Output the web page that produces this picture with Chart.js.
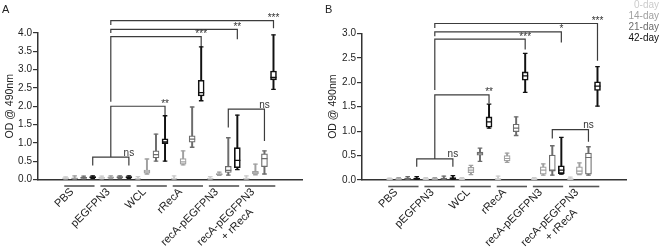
<!DOCTYPE html>
<html>
<head>
<meta charset="utf-8">
<script src="https://cdn.jsdelivr.net/npm/chart.js@4.4.1/dist/chart.umd.min.js"></script>
<style>
  html, body { margin: 0; padding: 0; background: #fff; }
  #wrap { position: relative; width: 660px; height: 247px; }
  #chartA { position: absolute; left: 0; top: 0; }
  #chartB { position: absolute; left: 324px; top: 0; }
</style>
</head>
<body>
<div id="wrap">
  <canvas id="chartA" width="324" height="247"></canvas>
  <canvas id="chartB" width="336" height="247"></canvas>
</div>
<script>
const groups = ['PBS', 'pEGFPN3', 'WCL', 'rRecA', 'recA-pEGFPN3', ['recA-pEGFPN3', '+ rRecA     ']];
const days = ['0-day', '14-day', '21-day', '42-day'];
const dayColors = ['#cccccc', '#a0a0a0', '#6c6c6c', '#111111'];

// panel A - one value per box, 6 groups x 4 days
const minA = [0.00, 0.00, 0.01, 0.03,  0.01, 0.02, 0.02, 0.03,  0.00, 0.15, 0.50, 0.50,  0.00, 0.40, 0.88, 2.15,  0.00, 0.11, 0.12, 0.27,  0.00, 0.13, 0.15, 2.46];
const q1A  = [0.02, 0.02, 0.03, 0.04,  0.03, 0.04, 0.04, 0.05,  0.01, 0.17, 0.59, 0.98,  0.01, 0.42, 1.02, 2.28,  0.01, 0.13, 0.19, 0.32,  0.01, 0.15, 0.35, 2.72];
const medA = [0.03, 0.03, 0.05, 0.06,  0.05, 0.05, 0.06, 0.06,  0.02, 0.21, 0.68, 1.03,  0.02, 0.48, 1.10, 2.37,  0.02, 0.14, 0.25, 0.52,  0.02, 0.18, 0.57, 2.79];
const q3A  = [0.05, 0.04, 0.06, 0.08,  0.06, 0.07, 0.08, 0.08,  0.03, 0.26, 0.78, 1.11,  0.04, 0.57, 1.19, 2.71,  0.04, 0.16, 0.36, 0.87,  0.04, 0.22, 0.70, 2.96];
const maxA = [0.07, 0.10, 0.09, 0.10,  0.09, 0.10, 0.10, 0.10,  0.08, 0.56, 1.24, 1.74,  0.10, 0.78, 1.98, 3.62,  0.08, 0.20, 1.14, 1.76,  0.10, 0.42, 0.78, 3.95];

// panel B
const minB = [0.00, 0.00, 0.00, 0.00,  0.00, 0.00, 0.00, 0.00,  0.00, 0.11, 0.38, 1.06,  0.00, 0.36, 0.91, 1.79,  0.00, 0.10, 0.10, 0.12,  0.00, 0.11, 0.10, 1.51];
const q1B  = [0.01, 0.01, 0.02, 0.02,  0.01, 0.01, 0.02, 0.02,  0.01, 0.15, 0.51, 1.08,  0.01, 0.39, 0.99, 2.04,  0.01, 0.12, 0.18, 0.13,  0.01, 0.12, 0.12, 1.83];
const medB = [0.02, 0.02, 0.03, 0.03,  0.02, 0.02, 0.03, 0.03,  0.02, 0.20, 0.55, 1.19,  0.02, 0.44, 1.06, 2.13,  0.02, 0.20, 0.20, 0.20,  0.02, 0.18, 0.46, 1.92];
const q3B  = [0.03, 0.03, 0.04, 0.04,  0.03, 0.03, 0.04, 0.05,  0.03, 0.26, 0.57, 1.29,  0.03, 0.50, 1.14, 2.21,  0.03, 0.27, 0.51, 0.29,  0.03, 0.27, 0.55, 2.01];
const maxB = [0.04, 0.05, 0.07, 0.07,  0.05, 0.05, 0.08, 0.09,  0.05, 0.30, 0.65, 1.55,  0.08, 0.55, 1.29, 2.59,  0.05, 0.33, 0.70, 0.87,  0.06, 0.35, 0.68, 2.32];

// significance brackets: box index of each leg, bar height, leg ends
const bracketsA = [
  { from: 3, to: 7, y: 0.61, left: 0.38, right: 0.38, label: 'ns' },
  { from: 5, to: 11, y: 2.00, left: 0.61, right: 1.75, label: '**' },
  { from: 5, to: 15, y: 3.90, left: 2.12, right: 3.62, label: '***' },
  { from: 5, to: 19, y: 4.10, left: 4.00, right: 3.83, label: '**' },
  { from: 5, to: 23, y: 4.34, left: 4.22, right: 4.13, label: '***' },
  { from: 18, to: 22, y: 1.92, left: 1.42, right: 1.05, label: 'ns' }
];
const bracketsB = [
  { from: 3, to: 7, y: 0.43, left: 0.27, right: 0.27, label: 'ns' },
  { from: 5, to: 11, y: 1.74, left: 0.43, right: 1.57, label: '**' },
  { from: 5, to: 15, y: 2.88, left: 1.84, right: 2.67, label: '***' },
  { from: 5, to: 19, y: 3.03, left: 2.94, right: 2.81, label: '*' },
  { from: 5, to: 23, y: 3.20, left: 3.11, right: 2.44, label: '***' },
  { from: 18, to: 22, y: 1.03, left: 0.85, right: 0.78, label: 'ns' }
];

Chart.defaults.font.family = '"Liberation Sans", Arial, sans-serif';
Chart.defaults.color = '#222';

const FONT = '"Liberation Sans", Arial, sans-serif';

const groupLines = {
  id: 'groupLines',
  afterDraw(chart) {
    const { ctx, chartArea, scales: { x } } = chart;
    const y0 = chartArea.bottom + 6.5;
    ctx.save();
    ctx.strokeStyle = '#555';
    ctx.lineWidth = 1.6;
    groups.forEach((g, j) => {
      ctx.beginPath();
      ctx.moveTo(x.getPixelForValue(4 * j - 0.15), y0);
      ctx.lineTo(x.getPixelForValue(4 * j + 3.2), y0);
      ctx.stroke();
    });
    ctx.restore();
  }
};

const bracketText = {
  id: 'bracketText',
  afterDatasetsDraw(chart, args, opts) {
    const { ctx, scales: { x, y } } = chart;
    ctx.save();
    ctx.fillStyle = '#333';
    ctx.textAlign = 'center';
    ctx.textBaseline = 'alphabetic';
    ctx.font = '10px ' + FONT;
    opts.brackets.forEach(b => {
      const py = y.getPixelForValue(b.y) + (b.label === 'ns' ? -1.5 : 0.5);
      ctx.fillText(b.label, x.getPixelForValue(b.to), py);
    });
    ctx.restore();
  }
};

const dayLegend = {
  id: 'dayLegend',
  afterDraw(chart, args, opts) {
    if (!opts.show) return;
    const { ctx } = chart;
    ctx.save();
    ctx.font = '10px ' + FONT;
    ctx.textAlign = 'right';
    ctx.textBaseline = 'middle';
    days.forEach((d, i) => {
      ctx.fillStyle = dayColors[i];
      ctx.fillText(d, chart.width - 1, 5.5 + 11 * i);
    });
    ctx.restore();
  }
};

function makeChart(id, letter, stats, yMax, brackets, opt) {
  const slots = stats.min.map((_, i) => i);
  const colorAt = i => dayColors[i % 4];

  const bracketData = [];
  brackets.forEach(b => {
    bracketData.push({ x: b.from, y: b.left }, { x: b.from, y: b.y }, { x: b.to, y: b.y }, { x: b.to, y: b.right }, { x: b.to, y: null });
  });

  return new Chart(document.getElementById(id), {
    type: 'bar',
    data: {
      datasets: [
        {
          type: 'line',
          label: 'brackets',
          order: 5,
          data: bracketData,
          borderColor: '#3c3c3c',
          borderWidth: 1.2,
          pointRadius: 0,
          spanGaps: false,
          tension: 0,
          fill: false,
          clip: false
        },
        {
          label: 'whiskers',
          order: 4,
          data: slots.map(i => ({ x: i, y: [stats.min[i], stats.max[i]] })),
          backgroundColor: ctx => colorAt(ctx.dataIndex),
          borderWidth: 0,
          barThickness: 1.3,
          grouped: false
        },
        {
          label: 'boxes',
          order: 3,
          data: slots.map(i => ({ x: i, y: [stats.q1[i], stats.q3[i]] })),
          backgroundColor: '#ffffff',
          borderColor: ctx => colorAt(ctx.dataIndex),
          borderWidth: ctx => (ctx.dataIndex % 4 === 3 ? 1.6 : 1.2),
          borderSkipped: false,
          barThickness: 6,
          grouped: false
        },
        {
          type: 'scatter',
          label: 'caps',
          order: 1,
          data: slots.flatMap(i => [{ x: i, y: stats.min[i] }, { x: i, y: stats.max[i] }]),
          pointStyle: 'line',
          pointRadius: 2.3,
          pointBorderWidth: 1.3,
          pointBorderColor: ctx => colorAt(Math.floor(ctx.dataIndex / 2))
        },
        {
          type: 'scatter',
          label: 'medians',
          order: 0,
          data: slots.map(i => ({ x: i, y: stats.med[i] })),
          pointStyle: 'line',
          pointRadius: 3,
          pointBorderWidth: 1.2,
          pointBorderColor: ctx => colorAt(ctx.dataIndex)
        }
      ]
    },
    options: {
      responsive: false,
      animation: false,
      events: [],
      layout: { padding: { left: opt.padLeft, right: opt.padRight, top: 0, bottom: 0 } },
      plugins: {
        legend: { display: false },
        tooltip: { enabled: false },
        title: {
          display: true,
          text: letter,
          align: 'start',
          color: '#222',
          font: { size: 11, weight: 'normal' },
          padding: { top: 3, bottom: opt.areaTop - 3 - 13.2 }
        },
        bracketText: { brackets },
        dayLegend: { show: opt.legend }
      },
      scales: {
        x: {
          type: 'linear',
          min: -0.62,
          max: 23.72,
          bounds: 'data',
          afterBuildTicks: scale => {
            scale.ticks = groups.map((g, j) => ({ value: 4 * j + 1.5 }));
          },
          afterFit: scale => { scale.height = opt.xHeight; },
          grid: { display: false, drawTicks: false },
          border: { display: true, color: '#333', width: 1.5 },
          ticks: {
            autoSkip: false,
            minRotation: 45,
            maxRotation: 45,
            padding: 6,
            labelOffset: -7,
            color: '#222',
            font: { size: 11 },
            callback: (v, i) => groups[i]
          }
        },
        y: {
          min: 0,
          max: yMax,
          afterFit: scale => { scale.width = 38 - opt.padLeft; },
          grid: { drawOnChartArea: false, tickLength: 5, color: '#333', lineWidth: 1.2 },
          border: { color: '#333', width: 1.5 },
          ticks: {
            stepSize: 0.5,
            padding: 1,
            color: '#222',
            font: { size: 10 },
            callback: v => v.toFixed(1)
          },
          title: {
            display: true,
            text: 'OD @ 490nm',
            color: '#222',
            font: { size: 10.5 },
            padding: { top: 1.5, bottom: 0 }
          }
        }
      }
    },
    plugins: [groupLines, bracketText, dayLegend]
  });
}

makeChart('chartA', 'A', { min: minA, q1: q1A, med: medA, q3: q3A, max: maxA }, 4, bracketsA,
  { padLeft: 2, padRight: 22, areaTop: 33, xHeight: 67.5, legend: false });
makeChart('chartB', 'B', { min: minB, q1: q1B, med: medB, q3: q3B, max: maxB }, 3, bracketsB,
  { padLeft: 1, padRight: 34, areaTop: 33.3, xHeight: 67, legend: true });
</script>
</body>
</html>
